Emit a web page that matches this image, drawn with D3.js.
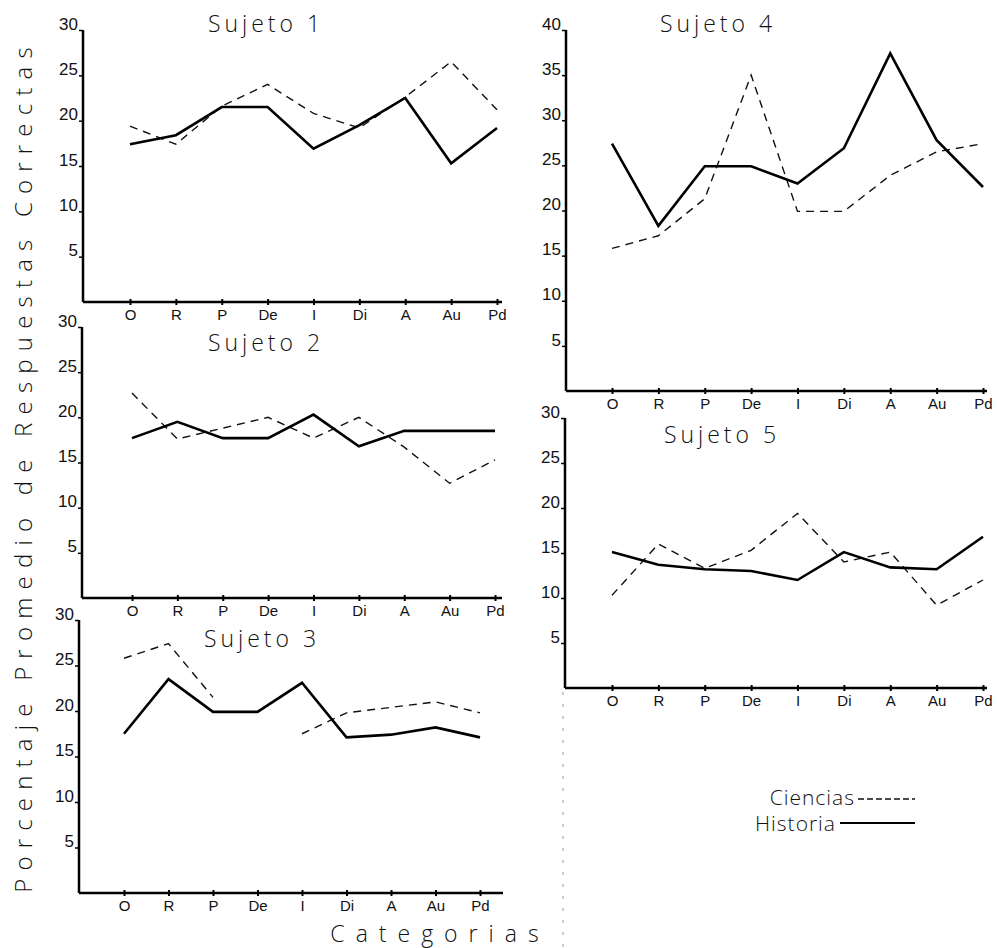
<!DOCTYPE html>
<html>
<head>
<meta charset="utf-8">
<script src="https://cdn.jsdelivr.net/npm/d3@7"></script>
<style>
  html,body{margin:0;padding:0;background:#fff;}
  svg{display:block;font-family:"Open Sans","DejaVu Sans",sans-serif;}
  .tick-lbl{font-size:17px;font-weight:300;fill:#111;}
  .cat-lbl{font-size:15px;font-weight:400;fill:#111;}
  .title{font-size:23px;font-weight:300;letter-spacing:4px;fill:#111;}
</style>
</head>
<body>
<svg id="chart" width="997" height="948"></svg>
<script>
// data
const categorias=["O","R","P","De","I","Di","A","Au","Pd"];
const sujetos=["Sujeto 1","Sujeto 2","Sujeto 3","Sujeto 4","Sujeto 5"];
const ticks30=[5,10,15,20,25,30];
const ticks40=[5,10,15,20,25,30,35,40];

const s1Ciencias=[19.4,17.4,21.6,24.0,20.8,19.2,22.6,26.5,21.2];
const s1Historia=[17.4,18.4,21.5,21.5,16.9,19.5,22.5,15.3,19.2];
const s2Ciencias=[22.7,17.6,18.8,20.0,17.7,20.0,16.7,12.7,15.3];
const s2Historia=[17.7,19.5,17.7,17.7,20.3,16.8,18.5,18.5,18.5];
const s3Ciencias=[25.8,27.4,21.5,null,17.5,19.8,20.4,21.0,19.8];
const s3Historia=[17.5,23.5,19.9,19.9,23.1,17.1,17.4,18.2,17.1];
const s4Ciencias=[15.8,17.2,21.3,35.0,19.9,19.9,23.9,26.5,27.4];
const s4Historia=[27.4,18.3,24.9,24.9,23.0,26.9,37.4,27.8,22.6];
const s5Ciencias=[10.3,16.0,13.3,15.3,19.4,14.0,15.1,9.2,12.0];
const s5Historia=[15.1,13.7,13.2,13.0,12.0,15.1,13.4,13.2,16.8];

const svg=d3.select('#chart');

// panel frames: y axis x, top, baseline, first/last category x, axis end, title pos
const panels=[
  {name:sujetos[0],cien:s1Ciencias,hist:s1Historia,max:30,ticks:ticks30,ax:83,top:30,bot:302,x0:130,x1:497,xe:502,tx:266,ty:32},
  {name:sujetos[1],cien:s2Ciencias,hist:s2Historia,max:30,ticks:ticks30,ax:82,top:327,bot:598,x0:132,x1:495,xe:502,tx:266,ty:351},
  {name:sujetos[2],cien:s3Ciencias,hist:s3Historia,max:30,ticks:ticks30,ax:79,top:620,bot:893,x0:124,x1:480,xe:503,tx:262,ty:647},
  {name:sujetos[3],cien:s4Ciencias,hist:s4Historia,max:40,ticks:ticks40,ax:566,top:30,bot:391,x0:612,x1:983,xe:987,tx:718,ty:32},
  {name:sujetos[4],cien:s5Ciencias,hist:s5Historia,max:30,ticks:ticks30,ax:565,top:418,bot:688,x0:612,x1:983,xe:987,tx:722,ty:443}
];

panels.forEach(p=>{
  const g=svg.append('g');
  const x=d3.scalePoint().domain(categorias).range([p.x0,p.x1]);
  const y=d3.scaleLinear().domain([0,p.max]).range([p.bot,p.top]);

  // axes
  g.append('line').attr('x1',p.ax).attr('x2',p.ax).attr('y1',y(p.max)).attr('y2',p.bot).attr('stroke','#000').attr('stroke-width',2.5);
  g.append('line').attr('x1',p.ax).attr('x2',p.xe).attr('y1',p.bot).attr('y2',p.bot).attr('stroke','#000').attr('stroke-width',2.5);

  const yAxis=d3.axisLeft(y).tickValues(p.ticks).tickSize(4).tickFormat(d3.format('d'));
  const ya=g.append('g').attr('transform','translate('+p.ax+',0)').call(yAxis);
  ya.select('.domain').remove();
  ya.selectAll('.tick line').attr('stroke','#000').attr('stroke-width',1.5);
  ya.selectAll('.tick text').attr('class','tick-lbl').attr('x',-5).attr('dy','-0.05em').style('font-family',null);

  const xAxis=d3.axisBottom(x).tickSize(0).tickPadding(7);
  const xa=g.append('g').attr('transform','translate(0,'+p.bot+')').call(xAxis);
  xa.select('.domain').remove();
  xa.selectAll('.tick').append('line').attr('y1',-3).attr('y2',3).attr('stroke','#000').attr('stroke-width',2);
  xa.selectAll('.tick text').attr('class','cat-lbl').style('font-family',null);

  g.append('text').attr('class','title').attr('x',p.tx).attr('y',p.ty).attr('text-anchor','middle').text(p.name);

  const line=d3.line().defined(d=>d!=null).x((d,i)=>x(categorias[i])).y(d=>y(d));
  g.append('path').datum(p.cien).attr('d',line).attr('fill','none').attr('stroke','#111').attr('stroke-width',1.4).attr('stroke-dasharray','8,6');
  g.append('path').datum(p.hist).attr('d',line).attr('fill','none').attr('stroke','#000').attr('stroke-width',2.6).attr('stroke-linejoin','miter');
});

// faint fold mark from the scan
svg.append('line').attr('x1',563).attr('x2',563).attr('y1',692).attr('y2',948).attr('stroke','#999').attr('stroke-width',1).attr('stroke-dasharray','3,9');

// y axis title
svg.append('text').attr('transform','translate(32,466) rotate(-90)').attr('text-anchor','middle')
  .style('font-size','24px').style('font-weight',300).style('letter-spacing','8.2px').attr('fill','#111')
  .text('Porcentaje Promedio de Respuestas Correctas');

// x axis title
svg.append('text').attr('x',440).attr('y',942).attr('text-anchor','middle')
  .style('font-size','23px').style('font-weight',300).style('letter-spacing','11px').attr('fill','#111')
  .text('Categorias');

// legend
const leg=svg.append('g');
leg.append('text').attr('x',855).attr('y',805).attr('text-anchor','end').style('font-size','21px').style('font-weight',300).style('letter-spacing','1px').attr('fill','#111').text('Ciencias');
leg.append('line').attr('x1',858).attr('x2',915).attr('y1',799).attr('y2',799).attr('stroke','#111').attr('stroke-width',1.3).attr('stroke-dasharray','6,3');
leg.append('text').attr('x',836).attr('y',831).attr('text-anchor','end').style('font-size','21px').style('font-weight',300).style('letter-spacing','1px').attr('fill','#111').text('Historia');
leg.append('line').attr('x1',840).attr('x2',915).attr('y1',823).attr('y2',823).attr('stroke','#000').attr('stroke-width',1.8);
</script>
</body>
</html>
